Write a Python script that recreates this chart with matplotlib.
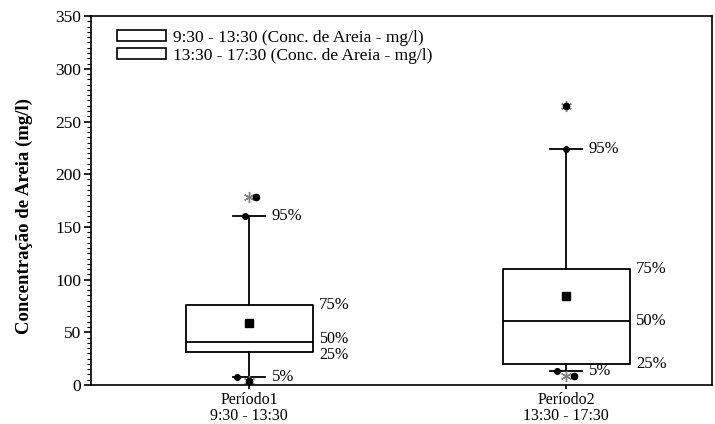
import matplotlib.pyplot as plt
from matplotlib.patches import Patch
from matplotlib.ticker import MultipleLocator

plt.rcParams['font.family'] = ['Liberation Serif', 'DejaVu Serif']

# Valori (mg/l)
periodos = ['Período1\n9:30 - 13:30', 'Período2\n13:30 - 17:30']
p5 = [8, 13]
p25 = [31, 20]
p50 = [41, 61]
p75 = [76, 110]
p95 = [160, 224]
medias = [59, 84]
maximos = [178, 265]
minimos = [4, 9]
legenda = ['9:30 - 13:30 (Conc. de Areia - mg/l)',
           '13:30 - 17:30 (Conc. de Areia - mg/l)']

pos = [1, 2]
largura = 0.4
cap = 0.1
fs = 12

fig = plt.figure(figsize=(7.15, 4.24), dpi=100)
ax = fig.add_axes([0.127, 0.092, 0.869, 0.870])

stats = []
for i in range(len(pos)):
    stats.append(dict(whislo=p5[i], q1=p25[i], med=p50[i], q3=p75[i],
                      whishi=p95[i], mean=medias[i], fliers=[]))

ax.bxp(stats, positions=pos, widths=largura, showmeans=True, showfliers=False,
       capwidths=cap,
       boxprops=dict(color='black', linewidth=1.3),
       medianprops=dict(color='black', linewidth=1.3),
       whiskerprops=dict(color='black', linewidth=1.3),
       capprops=dict(color='black', linewidth=1.3),
       meanprops=dict(marker='s', markerfacecolor='black', markeredgecolor='black',
                      markersize=6))

# punti sui baffi e valori estremi
off95 = [-0.015, 0.0]
off5 = [-0.04, -0.028]
offmax = [0.02, 0.0]
offmin = [0.0, 0.025]
for i, x in enumerate(pos):
    ax.plot(x + off95[i], p95[i], 'o', color='black', ms=4)
    ax.plot(x + off5[i], p5[i], 'o', color='black', ms=4)
    ax.plot(x, maximos[i], marker=(6, 2, 0), color='gray', ms=8, mew=1)
    ax.plot(x + offmax[i], maximos[i], 'o', color='black', ms=4.5)
    ax.plot(x, minimos[i], marker=(6, 2, 0), color='gray', ms=8, mew=1)
    ax.plot(x + offmin[i], minimos[i], 'o', color='black', ms=4.5)

    ax.text(x + cap / 2 + 0.02, p95[i], '95%', va='center', fontsize=fs)
    ax.text(x + cap / 2 + 0.02, p5[i], '5%', va='center', fontsize=fs)
    ax.text(x + largura / 2 + 0.02, p75[i], '75%', va='center', fontsize=fs)
    if p50[i] - p25[i] < 15:
        ax.text(x + largura / 2 + 0.02, p50[i] + 2.5, '50%', va='center', fontsize=11.5)
        ax.text(x + largura / 2 + 0.02, p25[i] - 2.5, '25%', va='center', fontsize=11.5)
    else:
        ax.text(x + largura / 2 + 0.02, p50[i], '50%', va='center', fontsize=fs)
        ax.text(x + largura / 2 + 0.02, p25[i], '25%', va='center', fontsize=fs)

ax.set_xlim(0.5, 2.46)
ax.set_ylim(0, 350)
ax.set_xticks(pos)
ax.set_xticklabels(periodos, fontsize=11.5, linespacing=1.0)
ax.yaxis.set_major_locator(MultipleLocator(50))
ax.yaxis.set_minor_locator(MultipleLocator(5))
ax.tick_params(axis='y', which='major', direction='out', length=5, width=1.2, labelsize=12.5, pad=2)
ax.tick_params(axis='y', which='minor', direction='out', length=3, width=0.8)
ax.tick_params(axis='x', direction='out', length=3, width=1.2, pad=2)
for s in ax.spines.values():
    s.set_linewidth(1.2)

ax.set_ylabel('Concentração de Areia (mg/l)', fontsize=13.5, fontweight='bold')
ax.yaxis.set_label_coords(-0.093, 0.457)

handles = [Patch(facecolor='white', edgecolor='black', linewidth=1.2) for _ in legenda]
ax.legend(handles, legenda, loc='upper left', frameon=False, fontsize=12.5,
          handlelength=2.8, handleheight=0.6, handletextpad=0.4, labelspacing=0.1,
          borderaxespad=0.4, bbox_to_anchor=(0.02, 1.0))

plt.savefig('out.png', dpi=100)
